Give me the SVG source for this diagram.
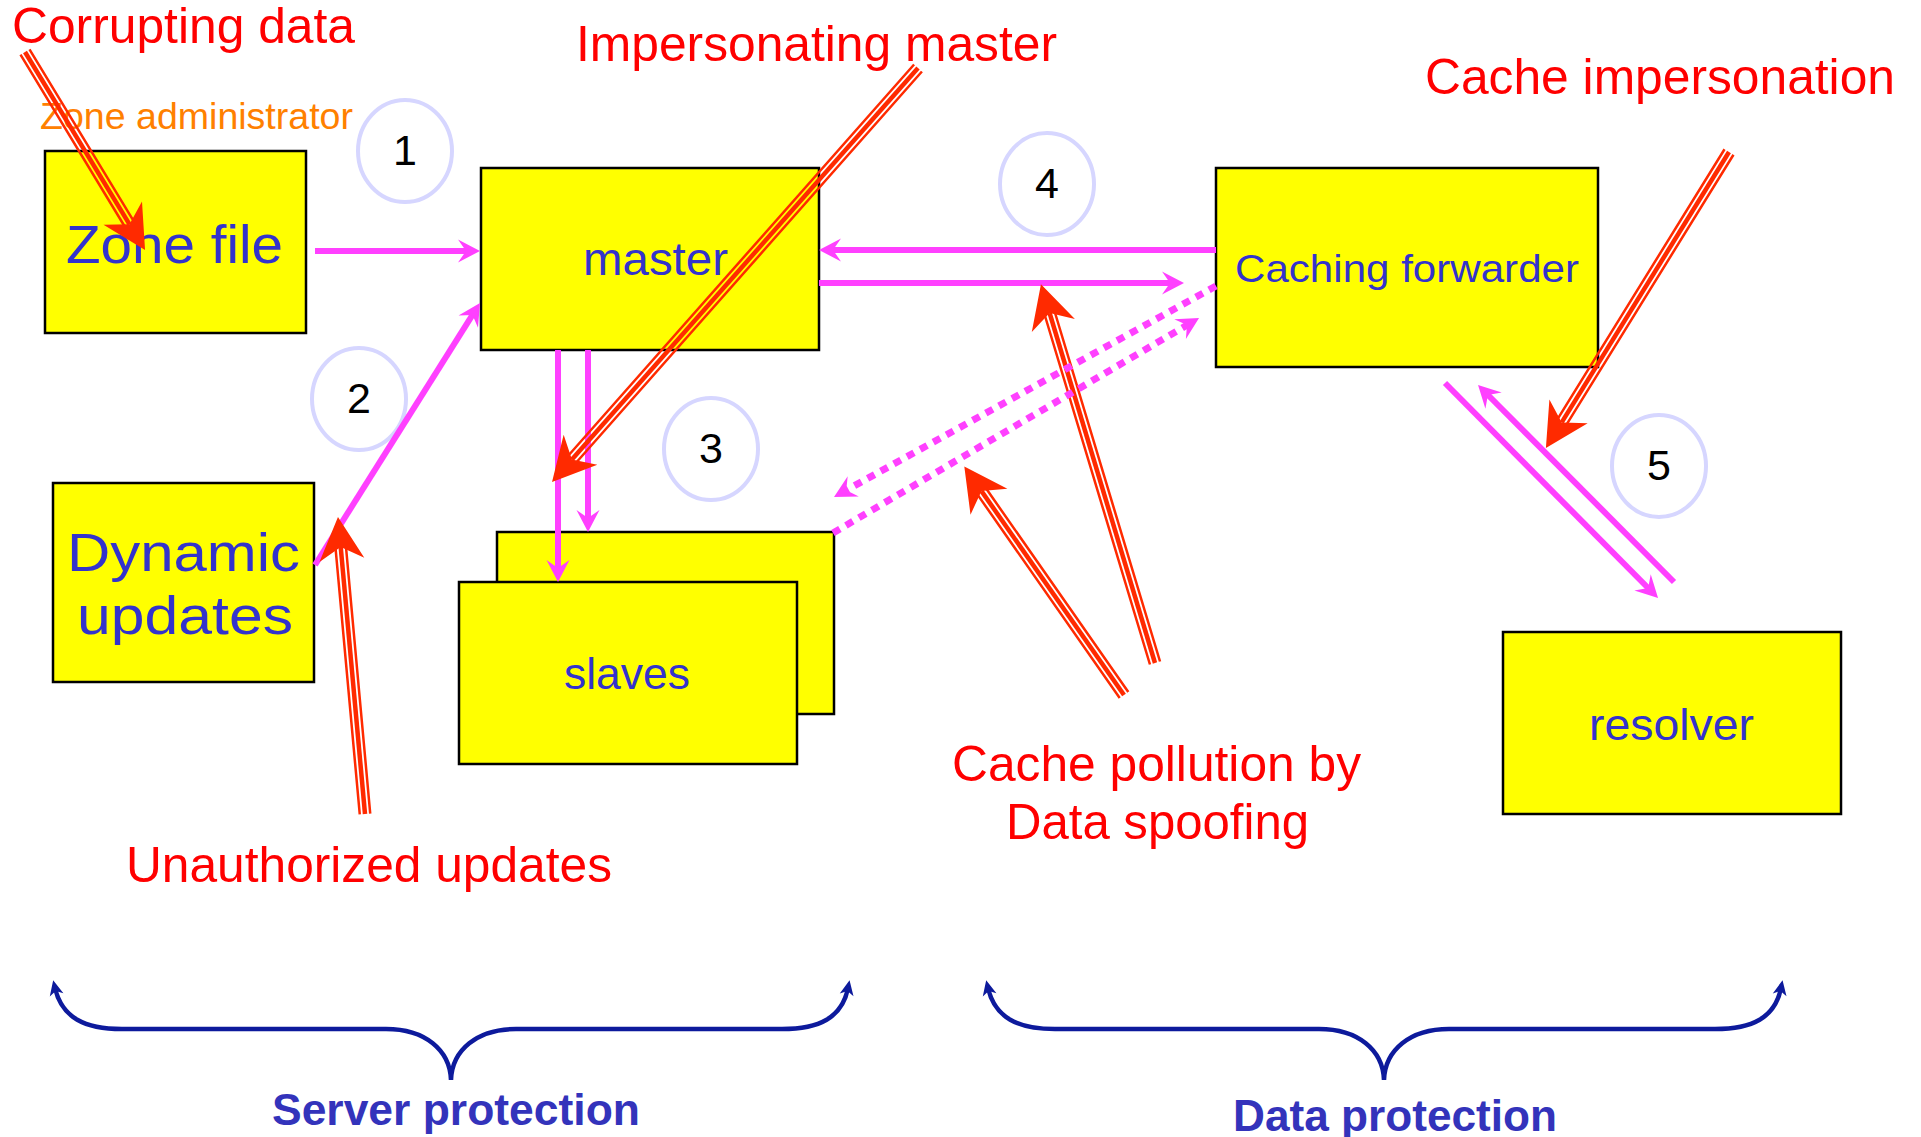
<svg xmlns="http://www.w3.org/2000/svg" width="1921" height="1137" viewBox="0 0 1921 1137">
<defs>
<style>
.box{fill:#FFFF00;stroke:#000;stroke-width:2.5}
.nt{font-family:"Liberation Sans",Arial,sans-serif;fill:#3333CC}
.num{font-family:"Liberation Sans",Arial,sans-serif;font-size:43px;fill:#000;text-anchor:middle}
.circ{fill:none;stroke:#D6D6FF;stroke-width:4}
.lbl{font-family:"Liberation Sans",Arial,sans-serif;font-size:50px;fill:#FF0000}
.mg{stroke:#FF40FF;stroke-width:6;fill:none}
.dot{stroke:#FF40FF;stroke-width:7;fill:none;stroke-dasharray:8 7}
.ro{stroke:#FF2A00;stroke-width:2.5;fill:none}
.ri{stroke:#FF2A00;stroke-width:4.5;fill:none}
.br{stroke:#0D1A9C;stroke-width:4.5;fill:none}
.prot{font-family:"Liberation Sans",Arial,sans-serif;font-size:44px;font-weight:bold;fill:#3333BB}
</style>
<marker id="mp" markerUnits="userSpaceOnUse" orient="auto" refX="0" refY="0" markerWidth="1" markerHeight="1" overflow="visible"><path d="M12,0 L-10,-11.5 L-2,0 L-10,11.5 Z" fill="#FF40FF"/></marker>
<marker id="mr" markerUnits="userSpaceOnUse" orient="auto" refX="0" refY="0" markerWidth="1" markerHeight="1" overflow="visible"><path d="M30,0 L-13,-22.5 L0,0 L-13,22.5 Z" fill="#FF2A00"/></marker>
<marker id="mb" markerUnits="userSpaceOnUse" orient="auto-start-reverse" refX="0" refY="0" markerWidth="1" markerHeight="1" overflow="visible"><path d="M8,0 L-7,-7 L-3,0 L-7,7 Z" fill="#0D1A9C"/></marker>
</defs>
<rect width="1921" height="1137" fill="#fff"/>

<g id="circles">
<g id="c1"><ellipse class="circ" cx="405" cy="151" rx="47" ry="51"/><text class="num" x="405" y="165">1</text></g>
<g id="c2"><ellipse class="circ" cx="359" cy="399" rx="47" ry="51"/><text class="num" x="359" y="413">2</text></g>
<g id="c3"><ellipse class="circ" cx="711" cy="449" rx="47" ry="51"/><text class="num" x="711" y="463">3</text></g>
<g id="c4"><ellipse class="circ" cx="1047" cy="184" rx="47" ry="51"/><text class="num" x="1047" y="198">4</text></g>
<g id="c5"><ellipse class="circ" cx="1659" cy="466" rx="47" ry="51"/><text class="num" x="1659" y="480">5</text></g>
</g>

<g id="zonefile"><rect class="box" x="45" y="151" width="261" height="182"/><text class="nt" x="66" y="263" font-size="54" textLength="217" lengthAdjust="spacingAndGlyphs">Zone file</text></g>
<g id="master"><rect class="box" x="481" y="168" width="338" height="182"/><text class="nt" x="583" y="275" font-size="46" textLength="145" lengthAdjust="spacingAndGlyphs">master</text></g>
<g id="forwarder"><rect class="box" x="1216" y="168" width="382" height="199"/><text class="nt" x="1235" y="282" font-size="39" textLength="344" lengthAdjust="spacingAndGlyphs">Caching forwarder</text></g>
<g id="dynamic"><rect class="box" x="53" y="483" width="261" height="199"/><text class="nt" x="67" y="571" font-size="54" textLength="233" lengthAdjust="spacingAndGlyphs">Dynamic</text><text class="nt" x="77" y="634" font-size="54" textLength="216" lengthAdjust="spacingAndGlyphs">updates</text></g>
<g id="slaves"><rect class="box" x="497" y="532" width="337" height="182"/><rect class="box" x="459" y="582" width="338" height="182"/><text class="nt" x="564" y="689" font-size="44" textLength="126" lengthAdjust="spacingAndGlyphs">slaves</text></g>
<g id="resolver"><rect class="box" x="1503" y="632" width="338" height="182"/><text class="nt" x="1589" y="740" font-size="44" textLength="165" lengthAdjust="spacingAndGlyphs">resolver</text></g>

<text id="zoneadmin" x="40" y="129" font-family="Liberation Sans, Arial, sans-serif" font-size="37" fill="#FF8000" textLength="313" lengthAdjust="spacingAndGlyphs">Zone administrator</text>

<g id="connectors">
<line class="mg" x1="315" y1="251" x2="468" y2="251" marker-end="url(#mp)"/>
<line class="mg" x1="315" y1="565" x2="473.6" y2="313.2" marker-end="url(#mp)"/>
<line class="mg" x1="1216" y1="250" x2="831" y2="250" marker-end="url(#mp)"/>
<line class="mg" x1="819" y1="283" x2="1172" y2="283" marker-end="url(#mp)"/>
<line class="mg" x1="558" y1="350" x2="558" y2="570" marker-end="url(#mp)"/>
<line class="mg" x1="588" y1="350" x2="588" y2="520" marker-end="url(#mp)"/>
<line class="mg" x1="1445" y1="383" x2="1649.6" y2="589.5" marker-end="url(#mp)"/>
<line class="mg" x1="1674" y1="582" x2="1486.5" y2="393.5" marker-end="url(#mp)"/>
</g>

<g id="attacks">
<path class="ro" d="M20.51,54.72 L125.01,227.02 M29.49,49.28 L133.99,221.58"/><line class="ri" x1="25" y1="52" x2="129.5" y2="224.3" marker-end="url(#mr)"/>
<path class="ro" d="M914.07,64.52 L567.97,456.02 M921.93,71.48 L575.83,462.98"/><line class="ri" x1="918" y1="68" x2="571.9" y2="459.5" marker-end="url(#mr)"/>
<path class="ro" d="M370.23,813.53 L345.93,546.43 M359.77,814.48 L335.47,547.38"/><line class="ri" x1="365" y1="814" x2="340.7" y2="546.9" marker-end="url(#mr)"/>
<path class="ro" d="M1128.3,691.99 L985.8,488.09 M1119.7,698.01 L977.2,494.11"/><line class="ri" x1="1124" y1="695" x2="981.5" y2="491.1" marker-end="url(#mr)"/>
<path class="ro" d="M1160.03,661.49 L1054.63,311.49 M1149.97,664.51 L1044.57,314.51"/><line class="ri" x1="1155" y1="663" x2="1049.6" y2="313" marker-end="url(#mr)"/>
<path class="ro" d="M1724.53,149.25 L1557.23,419.65 M1733.47,154.75 L1566.17,425.15"/><line class="ri" x1="1729" y1="152" x2="1561.7" y2="422.4" marker-end="url(#mr)"/>
</g>

<g id="dotted">
<line class="dot" x1="1216" y1="286" x2="844.5" y2="491.2" marker-end="url(#mp)"/>
<line class="dot" x1="833" y1="533" x2="1188.7" y2="324.1" marker-end="url(#mp)"/>
</g>

<g id="labels">
<text class="lbl" x="12" y="43" font-size="47" textLength="343" lengthAdjust="spacingAndGlyphs">Corrupting data</text>
<text class="lbl" x="576" y="61" textLength="481" lengthAdjust="spacingAndGlyphs">Impersonating master</text>
<text class="lbl" x="1425" y="94" textLength="470" lengthAdjust="spacingAndGlyphs">Cache impersonation</text>
<text class="lbl" x="126" y="882" textLength="486" lengthAdjust="spacingAndGlyphs">Unauthorized updates</text>
<text class="lbl" x="952" y="781" textLength="409" lengthAdjust="spacingAndGlyphs">Cache pollution by</text>
<text class="lbl" x="1006" y="839" textLength="303" lengthAdjust="spacingAndGlyphs">Data spoofing</text>
</g>

<g id="braces">
<path class="br" d="M55,988 C62,1018 85,1029 122,1029 L386,1029 C425,1029 450,1050 451,1080 C452,1050 477,1029 516,1029 L782,1029 C819,1029 842,1018 848,988" marker-start="url(#mb)" marker-end="url(#mb)"/>
<path class="br" d="M988,988 C995,1018 1018,1029 1055,1029 L1319,1029 C1358,1029 1383,1050 1384,1080 C1385,1050 1410,1029 1449,1029 L1715,1029 C1752,1029 1775,1018 1781,988" marker-start="url(#mb)" marker-end="url(#mb)"/>
<text class="prot" x="272" y="1125" textLength="368" lengthAdjust="spacingAndGlyphs">Server protection</text>
<text class="prot" x="1233" y="1131" textLength="324" lengthAdjust="spacingAndGlyphs">Data protection</text>
</g>
</svg>
